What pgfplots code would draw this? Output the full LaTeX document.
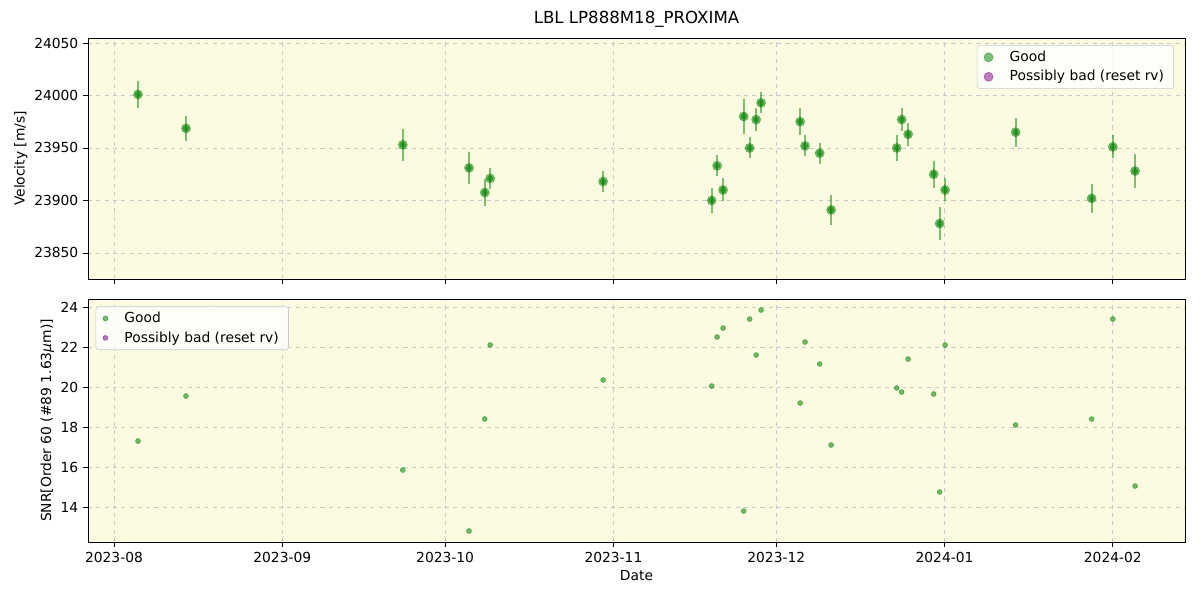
\documentclass[border=0pt]{standalone}
\usepackage{pgfplots}
\pgfplotsset{compat=1.18}
\usepackage{pgfplotstable}
\usepackage{fontspec}
\setmainfont{DejaVu Sans}
\definecolor{bgy}{RGB}{252,251,226}
\definecolor{mgreen}{RGB}{0,128,0}
\definecolor{mpurple}{RGB}{128,0,128}
\definecolor{gridc}{RGB}{200,200,200}

\pgfplotstableread{
day v err
4.42 24001 13
13.26 23968.6 12
53.2 23953 15
65.4 23931 15
68.3 23907.6 13
69.3 23921 10
90.1 23918 10
110.1 23900 12
111.1 23933 10
112.2 23910 11
116.0 23980 17
117.1 23950 10
118.3 23977 11
119.2 23993 10
126.4 23975 13
127.3 23952 10
130.0 23945 10
132.1 23891 14
144.2 23950 12
145.1 23977 11
146.3 23963 11
151.0 23925 13
152.1 23878 16
153.1 23910 11
166.1 23965 14
180.1 23902 14
184.0 23951 11
188.1 23928 16
}\rvtab

\pgfplotstableread{
day snr
4.42 17.3
13.26 19.55
53.2 15.85
65.4 12.8
68.3 18.4
69.3 22.1
90.1 20.35
110.1 20.05
111.1 22.5
112.2 22.95
116.0 13.8
117.1 23.4
118.3 21.6
119.2 23.85
126.4 19.2
127.3 22.25
130.0 21.15
132.1 17.1
144.2 19.95
145.1 19.75
146.3 21.4
151.0 19.65
152.1 14.75
153.1 22.1
166.1 18.1
180.1 18.4
184.0 23.4
188.1 15.05
}\snrtab

\pgfplotsset{
  common/.style={
    scale only axis,
    width=792.8pt,
    xmin=-4.79, xmax=197.3,
    axis background/.style={fill=bgy},
    grid=major,
    major grid style={gridc, dashed, line width=0.6pt},
    tick align=outside,
    xtick pos=bottom, ytick pos=left,
    xtick={0,31,61,92,122,153,184},
    major tick length=3.5pt,
    tick style={black, line width=0.6pt},
    axis line style={line width=0.6pt},
    tick label style={font=\fontsize{10}{12}\selectfont},
    label style={font=\fontsize{10}{12}\selectfont},
    scaled y ticks=false,
    /pgf/number format/assume math mode=true,
    /pgf/number format/1000 sep={},
    legend style={font=\fontsize{10}{12}\selectfont, draw=gridc, fill=white, fill opacity=0.8, text opacity=1, rounded corners=2pt, row sep=1pt, inner xsep=5pt,
      /tikz/every odd column/.append style={column sep=10pt}},
    legend cell align=left,
  }
}

\begin{document}
\begin{tikzpicture}
\path[use as bounding box] (0,0) rectangle (867.24pt,433.62pt);

\begin{axis}[common,
  at={(63.6pt,232.0pt)}, anchor=south west,
  height=174.2pt,
  ymin=23825.2, ymax=24054.8,
  ytick={23850,23900,23950,24000,24050},
  xticklabels={},
  ylabel={Velocity [m/s]},
  ylabel style={yshift=-2pt},
  title={LBL LP888M18\_PROXIMA},
  title style={font=\fontsize{12}{14}\selectfont, yshift=-2pt},
  legend style={at={(0.99,0.97)}, anchor=north east},
]
\addplot[only marks, mark=*, mark size=3.3pt, color=mgreen, opacity=0.5,
  error bars/.cd, y dir=both, y explicit, error mark=none,
  error bar style={line width=1.5pt, mgreen, opacity=0.5}]
  table[x=day, y=v, y error=err] {\rvtab};
\addlegendentry{Good}
\addlegendimage{only marks, mark=*, mark size=3.3pt, color=mpurple, opacity=0.5}
\addlegendentry{Possibly bad (reset rv)}
\addplot[only marks, mark=*, mark size=2.0pt, color=mgreen, opacity=0.5, forget plot]
  table[x=day, y=v] {\rvtab};
\end{axis}

\begin{axis}[common,
  at={(63.6pt,41.9pt)}, anchor=south west,
  height=175.6pt,
  ymin=12.25, ymax=24.4,
  ytick={14,16,18,20,22,24},
  xticklabels={2023-08,2023-09,2023-10,2023-11,2023-12,2024-01,2024-02},
  xlabel={Date},
  xlabel style={yshift=1pt},
  ylabel={SNR[Order 60 (\#89 1.63\textit{μ}m)]},
  ylabel style={yshift=-2pt},
  legend style={at={(0.007,0.97)}, anchor=north west},
]
\addplot[only marks, mark=*, mark size=1.8pt, color=mgreen, opacity=0.55]
  table[x=day, y=snr] {\snrtab};
\addlegendentry{Good}
\addlegendimage{only marks, mark=*, mark size=1.8pt, color=mpurple, opacity=0.55}
\addlegendentry{Possibly bad (reset rv)}
\end{axis}
\end{tikzpicture}
\end{document}
